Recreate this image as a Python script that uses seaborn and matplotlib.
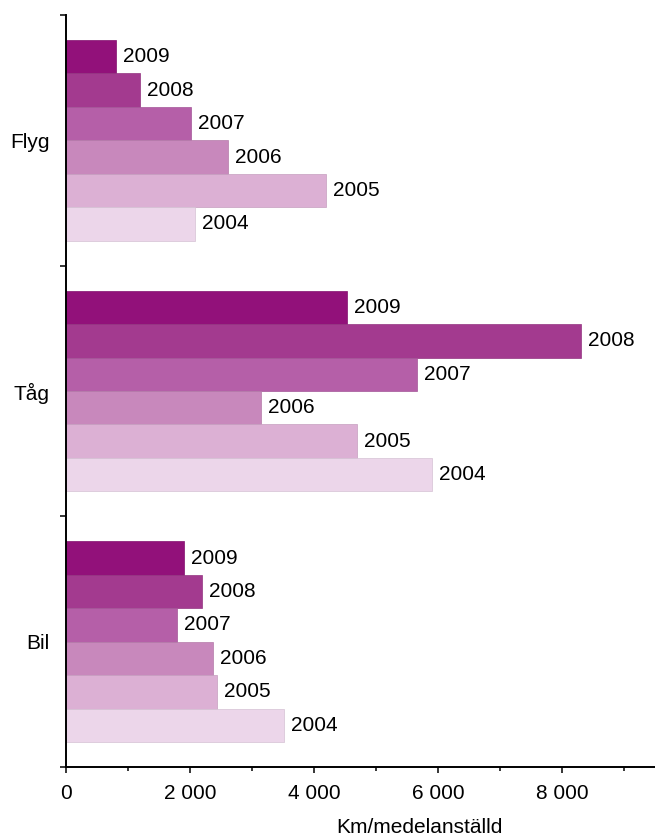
import numpy as np
import pandas as pd
import matplotlib
matplotlib.use('Agg')
import matplotlib.pyplot as plt
import matplotlib.colors as mcolors
from matplotlib.ticker import FuncFormatter, MultipleLocator, FixedLocator
import seaborn as sns

# travel per employee, km
modes = ["Flyg", "Tåg", "Bil"]
years = ["2009", "2008", "2007", "2006", "2005", "2004"]
flyg = [810, 1200, 2010, 2620, 4200, 2080]
tag = [4530, 8300, 5660, 3140, 4690, 5910]
bil = [1910, 2200, 1790, 2370, 2430, 3520]

colors = ["#92117a", "#a33a8f", "#b55fa8", "#c888bc", "#dcb0d4", "#ecd6ea"]

rows = []
for mode, vals in zip(modes, [flyg, tag, bil]):
    for yr, v in zip(years, vals):
        rows.append({"mode": mode, "year": yr, "km": v})
df = pd.DataFrame(rows)

sns.set_style("white")
plt.rcParams['font.family'] = ['Liberation Sans', 'DejaVu Sans']
plt.rcParams['text.color'] = 'black'
plt.rcParams['xtick.color'] = 'black'
plt.rcParams['ytick.color'] = 'black'
plt.rcParams['axes.labelcolor'] = 'black'

fig = plt.figure(figsize=(6.55, 8.39), dpi=100)
ax = fig.add_axes([66 / 655, 72 / 839, 1 - 66 / 655, 752 / 839])

sns.barplot(data=df, y="mode", x="km", hue="year", order=modes, hue_order=years,
            palette=colors, orient="h", width=0.8, ax=ax, legend=False,
            saturation=1, linewidth=0)

# thin darker line between the stacked bars
for p in ax.patches:
    fc = np.array(mcolors.to_rgb(p.get_facecolor()))
    p.set_edgecolor(fc * 0.9)
    p.set_linewidth(0.5)

for cont, yr in zip(ax.containers, years):
    ax.bar_label(cont, labels=[yr] * len(cont), padding=5, fontsize=15, color="black")

ax.set_xlim(0, 9500)
ax.set_ylim(2.5, -0.5)

ax.xaxis.set_major_locator(MultipleLocator(2000))
ax.xaxis.set_minor_locator(MultipleLocator(1000))
ax.xaxis.set_major_formatter(FuncFormatter(lambda x, pos: f"{int(x):,}".replace(",", " ")))
ax.tick_params(axis="x", which="major", direction="out", length=4, width=1.1,
               labelsize=15, pad=8, bottom=True)
ax.tick_params(axis="x", which="minor", direction="out", length=3, width=1.1,
               bottom=True)

ax.set_yticks(range(len(modes)))
ax.set_yticklabels(modes)
ax.yaxis.set_minor_locator(FixedLocator([-0.5, 0.5, 1.5, 2.5]))
ax.tick_params(axis="y", which="major", length=0, labelsize=15, pad=12)
ax.tick_params(axis="y", which="minor", direction="out", length=4, width=1.1,
               left=True)

ax.set_ylabel("")
ax.set_xlabel("Km/medelanställd", fontsize=15)
ax.xaxis.set_label_coords(0.6, -0.068)

for s in ["top", "right"]:
    ax.spines[s].set_visible(False)
for s in ["left", "bottom"]:
    ax.spines[s].set_color("black")
    ax.spines[s].set_linewidth(1.4)

fig.savefig("out.png", dpi=100)
